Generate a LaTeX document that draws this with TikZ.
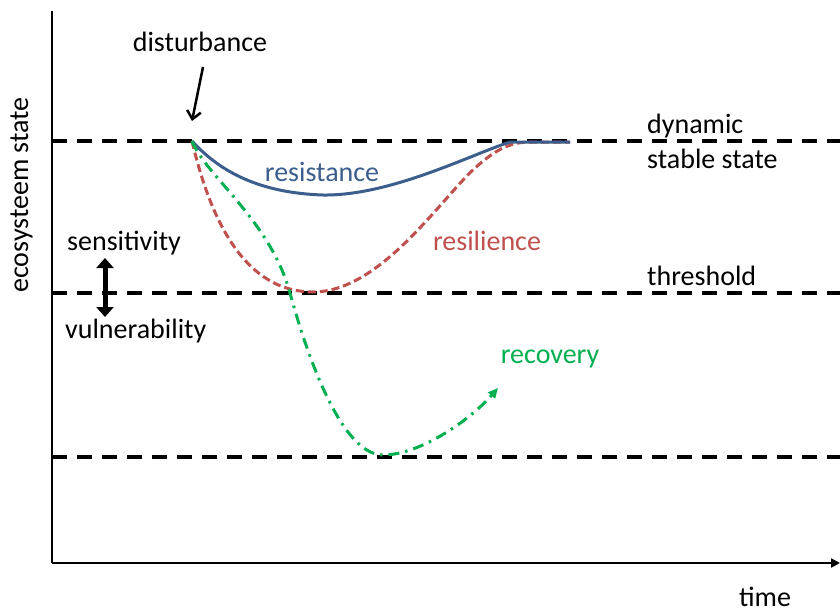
\documentclass[tikz,border=0pt]{standalone}
\usepackage{fontspec}
\setmainfont{Carlito}
\usetikzlibrary{arrows.meta}
\definecolor{resblue}{RGB}{59,94,140}
\definecolor{resred}{RGB}{192,80,77}
\definecolor{recgreen}{RGB}{0,176,80}
\tikzset{
  lbl/.style={inner sep=0pt, font=\fontsize{28}{32}\selectfont},
  axisline/.style={line width=2.5pt},
  levelline/.style={line width=3.5pt, dash pattern=on 15pt off 10pt},
  bluecurve/.style={resblue, line width=3pt},
  redcurve/.style={resred, line width=3pt, dash pattern=on 8pt off 4pt},
  greencurve/.style={recgreen, line width=3pt, dash pattern=on 11pt off 6pt on 2.5pt off 6pt},
}
\begin{document}
\begin{tikzpicture}[x=1pt,y=-1pt]
\useasboundingbox (0,0) rectangle (840,615);
% axes
\coordinate (origin) at (52,563);
\coordinate (ytop) at (52,11);
\coordinate (xend) at (840,563);
\draw[axisline] (ytop) -- (origin);
\draw[axisline, -{Triangle[length=9pt,width=9pt]}] (origin) -- (xend);
% level lines
\coordinate (s1) at (52,141); \coordinate (s2) at (840,141);
\coordinate (t1) at (52,293); \coordinate (t2) at (840,293);
\coordinate (b1) at (52,457); \coordinate (b2) at (840,457);
\draw[levelline] (s1) -- (s2);
\draw[levelline] (t1) -- (t2);
\draw[levelline] (b1) -- (b2);
% curves
\coordinate (dist0) at (192,141);
\coordinate (flatend) at (570,142);
\draw[redcurve] (dist0) .. controls (215,240) and (255,292) .. (313,292)
  .. controls (380,292) and (440,200) .. (475,168)
  .. controls (495,150) and (510,142) .. (530,142) -- (flatend);
\draw[bluecurve] (dist0) .. controls (220,172) and (260,193) .. (323,195)
  .. controls (390,196) and (470,155) .. (510,142) -- (flatend);
\coordinate (recend) at (498,388);
\draw[greencurve, -{Triangle[length=10pt,width=9pt]}] (dist0) .. controls (205,175) and (270,220) .. (290,293)
  .. controls (305,348) and (340,455) .. (383,455)
  .. controls (420,455) and (470,420) .. (recend);
% labels
\node[lbl, anchor=base] (dist) at (200,52) {disturbance};
\coordinate (dstart) at (203,67);
\coordinate (dend) at (192,121);
\draw[line width=2.5pt, -{Straight Barb[length=8pt,width=14pt]}] (dstart) -- (dend);
\node[lbl, anchor=base, text=resblue] (resist) at (322,181) {resistance};
\node[lbl, anchor=base, text=resred] (resil) at (487,250) {resilience};
\node[lbl, anchor=base, text=recgreen] (recov) at (550,363) {recovery};
\node[lbl, anchor=base west] (dyn) at (647,133) {dynamic};
\node[lbl, anchor=base west] (stable) at (647,168) {stable state};
\node[lbl, anchor=base west] (thresh) at (647,285) {threshold};
\node[lbl, anchor=base west] (sens) at (67,250) {sensitivity};
\node[lbl, anchor=base west] (vuln) at (65,338) {vulnerability};
\node[lbl, anchor=base] (time) at (765,606) {time};
\node[lbl, anchor=base, rotate=90] (eco) at (28,195) {ecosysteem state};
% double arrow
\coordinate (da1) at (105,258);
\coordinate (da2) at (105,317);
\draw[line width=5pt, {Triangle[length=10pt,width=17pt]}-{Triangle[length=10pt,width=17pt]}] (da1) -- (da2);
\end{tikzpicture}
\end{document}
